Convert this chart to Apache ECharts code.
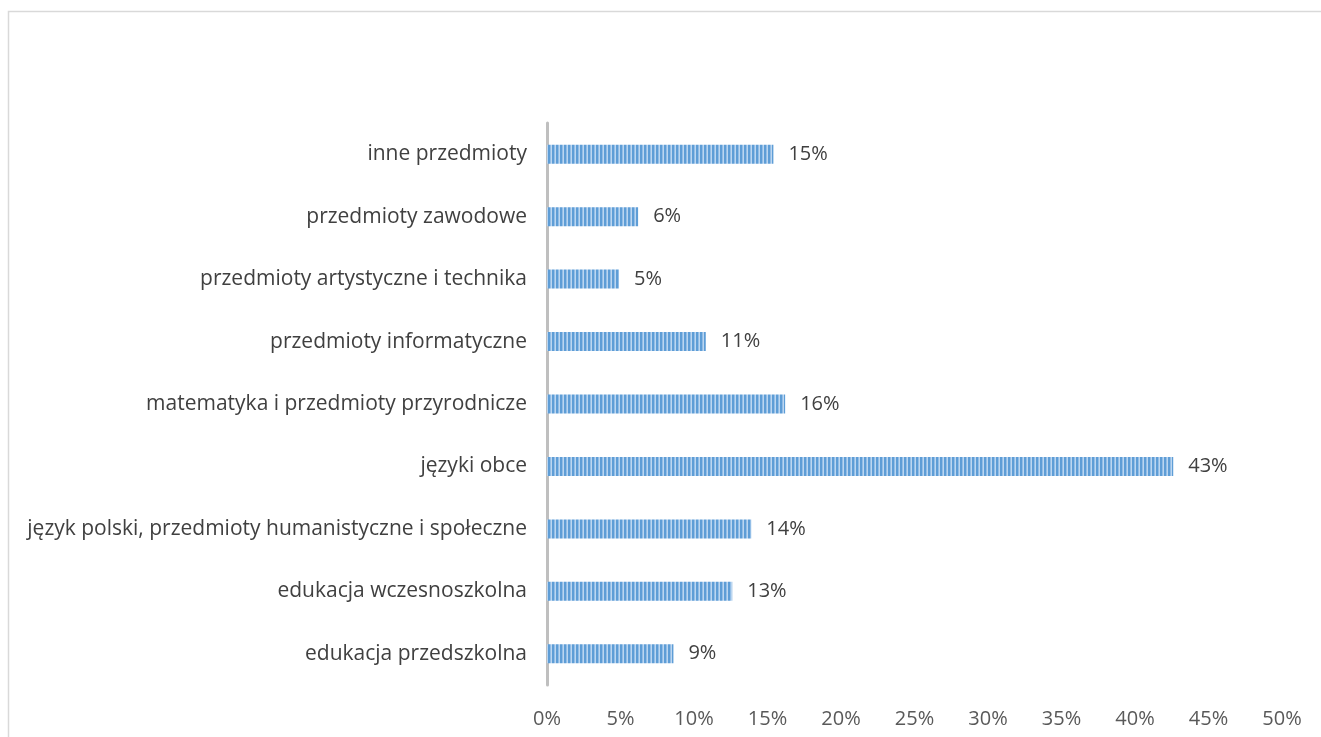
<!DOCTYPE html>
<html>
<head>
<meta charset="utf-8">
<script src="https://cdn.jsdelivr.net/npm/echarts@6/dist/echarts.min.js"></script>
<style>
	html, body { margin: 0; padding: 0; background: #fff; }
	#chart { width: 1321px; height: 737px; }
</style>
</head>
<body>
<div id="chart"></div>
<script>
var categories = [
	"edukacja przedszkolna",
	"edukacja wczesnoszkolna",
	"język polski, przedmioty humanistyczne i społeczne",
	"języki obce",
	"matematyka i przedmioty przyrodnicze",
	"przedmioty informatyczne",
	"przedmioty artystyczne i technika",
	"przedmioty zawodowe",
	"inne przedmioty"
];
var values = [8.6, 12.6, 13.9, 42.6, 16.2, 10.8, 4.9, 6.2, 15.4];
var ticks = [0, 5, 10, 15, 20, 25, 30, 35, 40, 45, 50];

// paski pionowe jak w Excelu
var pat = document.createElement("canvas");
pat.width = 4;
pat.height = 4;
var ctx = pat.getContext("2d");
ctx.fillStyle = "#5e9dd6";
ctx.fillRect(0, 0, 4, 4);
ctx.fillStyle = "#93bee7";
ctx.fillRect(2, 0, 1, 4);
ctx.fillStyle = "#bcd6f0";
ctx.fillRect(3, 0, 1, 4);

var font = "Open Sans, Noto Sans, sans-serif";
var chart = echarts.init(document.getElementById("chart"));
chart.setOption({
	animation: false,
	graphic: [{
		type: "rect",
		shape: { x: 8.5, y: 11.5, width: 1330, height: 740 },
		style: { fill: null, stroke: "#d9d9d9", lineWidth: 1.5 }
	}],
	grid: { left: 547, right: 39, top: 123, bottom: 52 },
	xAxis: {
		type: "value",
		min: 0,
		max: 50,
		interval: 5,
		splitLine: { show: false },
		axisLine: { show: false },
		axisTick: { show: false },
		axisLabel: {
			color: "#595959",
			fontSize: 20,
			fontFamily: font,
			margin: 24,
			formatter: function (v) { return ticks.indexOf(v) >= 0 ? v + "%" : ""; }
		}
	},
	yAxis: {
		type: "category",
		data: categories,
		axisLine: { show: true, lineStyle: { color: "#bfbfbf", width: 3 } },
		axisTick: { show: false },
		axisLabel: { color: "#404040", fontSize: 21, fontFamily: font, margin: 20 }
	},
	series: [{
		type: "bar",
		data: values,
		barWidth: 19,
		itemStyle: { color: { image: pat, repeat: "repeat" } },
		label: {
			show: true,
			position: "right",
			distance: 15,
			color: "#404040",
			fontSize: 20,
			fontFamily: font,
			formatter: function (p) { return Math.round(p.value) + "%"; }
		}
	}]
});
</script>
</body>
</html>
